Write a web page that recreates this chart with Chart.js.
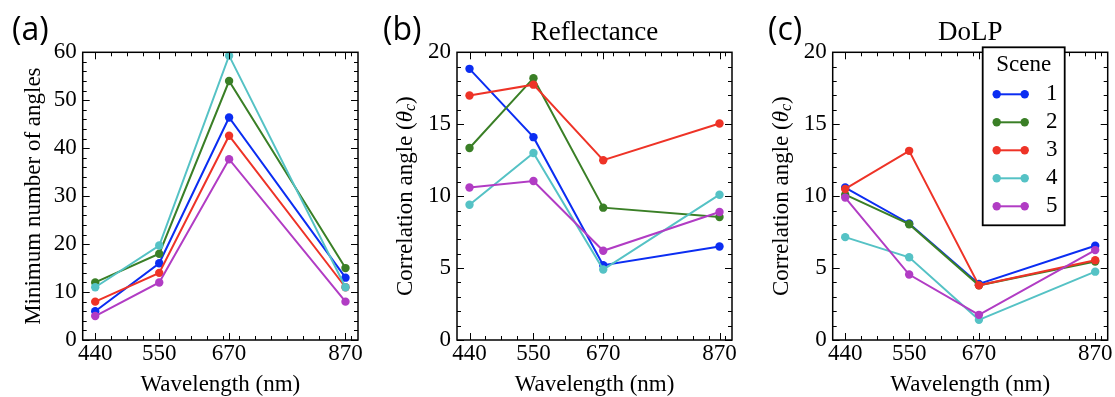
<!DOCTYPE html>
<html>
<head>
<meta charset="utf-8">
<script src="https://cdn.jsdelivr.net/npm/chart.js@4.4.0/dist/chart.umd.min.js"></script>
<style>
  body { margin: 0; background: #fff; }
  #wrap { position: relative; width: 1115px; height: 397px; }
  canvas { position: absolute; top: 0; }
</style>
</head>
<body>
<div id="wrap">
  <canvas id="chartA" width="372" height="397" style="left:0px"></canvas>
  <canvas id="chartB" width="372" height="397" style="left:372px"></canvas>
  <canvas id="chartC" width="371" height="397" style="left:744px"></canvas>
</div>
<script>
const wavelengths = [440, 550, 670, 870];
const sceneNames = ['1', '2', '3', '4', '5'];
const sceneColors = ['#0b2df2', '#3a7f26', '#ee3327', '#55c2c5', '#b13cc4'];

// (a) minimum number of angles, one row per scene
const minAngles = [
  [6, 16, 46.4, 13],
  [12, 18, 54, 15],
  [8, 14, 42.6, 11],
  [11, 19.7, 59.3, 11],
  [5, 12, 37.7, 8]
];
// (b) correlation angle, reflectance
const reflAngles = [
  [18.85, 14.1, 5.2, 6.5],
  [13.35, 18.2, 9.2, 8.55],
  [17.0, 17.75, 12.5, 15.05],
  [9.4, 13.0, 4.9, 10.1],
  [10.6, 11.05, 6.2, 8.9]
];
// (c) correlation angle, DoLP
const dolpAngles = [
  [10.6, 8.1, 3.9, 6.55],
  [10.1, 8.05, 3.8, 5.45],
  [10.5, 13.15, 3.8, 5.55],
  [7.15, 5.75, 1.4, 4.75],
  [9.9, 4.55, 1.75, 6.25]
];

const serif = '"Liberation Serif", "Times New Roman", serif';
Chart.defaults.font.family = serif;
Chart.defaults.color = '#000';

function font(size, extra) {
  return Object.assign({ family: serif, size: size, weight: 'normal' }, extra || {});
}

function makeDatasets(rows) {
  return rows.map((row, i) => ({
    label: sceneNames[i],
    data: row.map((v, j) => ({ x: wavelengths[j], y: v })),
    borderColor: sceneColors[i],
    backgroundColor: sceneColors[i],
    pointBackgroundColor: sceneColors[i],
    borderWidth: 2,
    pointRadius: 4.2,
    pointBorderWidth: 0,
    tension: 0,
    clip: false,
    order: -i
  }));
}

// box round the plot with inward ticks on all four sides
const frameTicks = {
  id: 'frameTicks',
  afterDatasetsDraw(chart, args, o) {
    const { ctx, chartArea: a } = chart;
    const x = chart.scales.x, y = chart.scales.y;
    ctx.save();
    ctx.strokeStyle = '#000';
    ctx.lineWidth = 1;
    ctx.beginPath();
    const xt = (v, len) => {
      const p = Math.round(x.getPixelForValue(v)) + 0.5;
      ctx.moveTo(p, a.bottom); ctx.lineTo(p, a.bottom - len);
      ctx.moveTo(p, a.top); ctx.lineTo(p, a.top + len);
    };
    const yt = (v, len) => {
      const p = Math.round(y.getPixelForValue(v)) + 0.5;
      ctx.moveTo(a.left, p); ctx.lineTo(a.left + len, p);
      ctx.moveTo(a.right, p); ctx.lineTo(a.right - len, p);
    };
    wavelengths.forEach(v => xt(v, 7));
    const xStep = (wavelengths[1] - wavelengths[0]) / 4;
    for (let k = -4; k < 40; k++) {
      const v = wavelengths[0] + k * xStep;
      if (v > x.min && v < x.max && !wavelengths.includes(v)) xt(v, 4);
    }
    for (let v = y.min; v <= y.max + 1e-9; v += o.minor) {
      if (Math.abs(v / o.major - Math.round(v / o.major)) < 1e-6) yt(v, 7);
      else yt(v, 4);
    }
    ctx.stroke();
    ctx.lineWidth = 1.5;
    ctx.strokeRect(a.left, a.top, a.right - a.left, a.bottom - a.top);
    ctx.restore();
  }
};

const panelLabel = {
  id: 'panelLabel',
  afterDraw(chart, args, o) {
    const ctx = chart.ctx;
    ctx.save();
    ctx.font = '32px "Open Sans", sans-serif';
    ctx.fillStyle = '#000';
    ctx.textAlign = 'left';
    ctx.textBaseline = 'middle';
    ctx.fillText(o.text, o.x, o.y);
    ctx.restore();
  }
};

// y title with italic theta and subscript c
const thetaTitle = {
  id: 'thetaTitle',
  afterDraw(chart) {
    const { ctx, chartArea: a } = chart;
    const parts = [
      { t: 'Correlation angle (', f: '23px ' + serif, dy: 0 },
      { t: 'θ', f: 'italic 23px ' + serif, dy: 0 },
      { t: 'c', f: 'italic 16px ' + serif, dy: 5 },
      { t: ')', f: '23px ' + serif, dy: 0 }
    ];
    ctx.save();
    let total = 0;
    parts.forEach(p => { ctx.font = p.f; p.w = ctx.measureText(p.t).width; total += p.w; });
    ctx.translate(a.left - 51, (a.top + a.bottom) / 2);
    ctx.rotate(-Math.PI / 2);
    ctx.fillStyle = '#000';
    ctx.textAlign = 'left';
    ctx.textBaseline = 'middle';
    let cx = -total / 2;
    parts.forEach(p => { ctx.font = p.f; ctx.fillText(p.t, cx, p.dy); cx += p.w; });
    ctx.restore();
  }
};

const sceneLegend = {
  id: 'sceneLegend',
  afterDraw(chart) {
    const { ctx, chartArea: a } = chart;
    const L = a.right - 125, T = a.top - 5, W = 82, H = 178;
    ctx.save();
    ctx.fillStyle = '#fff';
    ctx.fillRect(L, T, W, H);
    ctx.strokeStyle = '#000';
    ctx.lineWidth = 1.8;
    ctx.strokeRect(L, T, W, H);
    ctx.fillStyle = '#000';
    ctx.font = '23px ' + serif;
    ctx.textAlign = 'center';
    ctx.textBaseline = 'middle';
    ctx.fillText('Scene', L + W / 2, T + 18);
    chart.data.datasets.forEach((ds, i) => {
      const yy = T + 47 + 28 * i;
      ctx.strokeStyle = ds.borderColor;
      ctx.lineWidth = 2;
      ctx.beginPath();
      ctx.moveTo(L + 14, yy); ctx.lineTo(L + 42, yy);
      ctx.stroke();
      ctx.fillStyle = ds.borderColor;
      [L + 14, L + 42].forEach(px => {
        ctx.beginPath(); ctx.arc(px, yy, 4.2, 0, Math.PI * 2); ctx.fill();
      });
      ctx.fillStyle = '#000';
      ctx.fillText(ds.label, L + 69, yy);
    });
    ctx.restore();
  }
};

function xAxis() {
  return {
    type: 'linear', min: 418.5, max: 891.5,
    afterBuildTicks(s) { s.ticks = wavelengths.map(v => ({ value: v })); },
    ticks: { padding: 0.5, font: font(23), color: '#000', autoSkip: false, maxRotation: 0 },
    grid: { display: false, drawTicks: false },
    border: { display: false },
    title: { display: true, text: 'Wavelength (nm)', color: '#000',
             font: font(23, { lineHeight: 1 }), padding: { top: 0, bottom: 1 } },
    afterFit(s) { s.height = 57; }
  };
}

function yAxis(max, step, width, title) {
  return {
    min: 0, max: max,
    ticks: { stepSize: step, padding: 6, font: font(23), color: '#000' },
    grid: { display: false, drawTicks: false },
    border: { display: false },
    title: title ? { display: true, text: title, color: '#000',
                     font: font(23, { lineHeight: 1 }), padding: { top: 22, bottom: 0 } }
                 : { display: false },
    afterFit(s) { s.width = width; }
  };
}

function makeChart(id, rows, opts) {
  const plugins = [frameTicks, panelLabel];
  if (opts.theta) plugins.push(thetaTitle);
  if (opts.legend) plugins.push(sceneLegend);
  return new Chart(document.getElementById(id), {
    type: 'line',
    data: { datasets: makeDatasets(rows) },
    options: {
      responsive: false,
      animation: false,
      layout: { padding: opts.padding },
      scales: { x: xAxis(), y: yAxis(opts.max, opts.step, opts.yWidth, opts.yTitle) },
      plugins: {
        legend: { display: false },
        tooltip: { enabled: false },
        title: opts.title ? { display: true, text: opts.title, fullSize: false, color: '#000',
                              font: font(27), padding: { top: 16.8, bottom: 3.1 } }
                          : { display: false },
        frameTicks: { major: opts.step, minor: opts.step / 5 },
        panelLabel: opts.label
      }
    },
    plugins: plugins
  });
}

makeChart('chartA', minAngles, {
  max: 60, step: 10, yWidth: 82.7, yTitle: 'Minimum number of angles',
  padding: { top: 52.3, left: 0, right: 14, bottom: 0 },
  label: { text: '(a)', x: 12, y: 31 }
});
makeChart('chartB', reflAngles, {
  max: 20, step: 5, yWidth: 85, theta: true, title: 'Reflectance',
  padding: { top: 0, left: 0, right: 12, bottom: 0 },
  label: { text: '(b)', x: 11, y: 31 }
});
makeChart('chartC', dolpAngles, {
  max: 20, step: 5, yWidth: 88.7, theta: true, title: 'DoLP', legend: true,
  padding: { top: 0, left: 0, right: 7.3, bottom: 0 },
  label: { text: '(c)', x: 24, y: 31 }
});
</script>
</body>
</html>
